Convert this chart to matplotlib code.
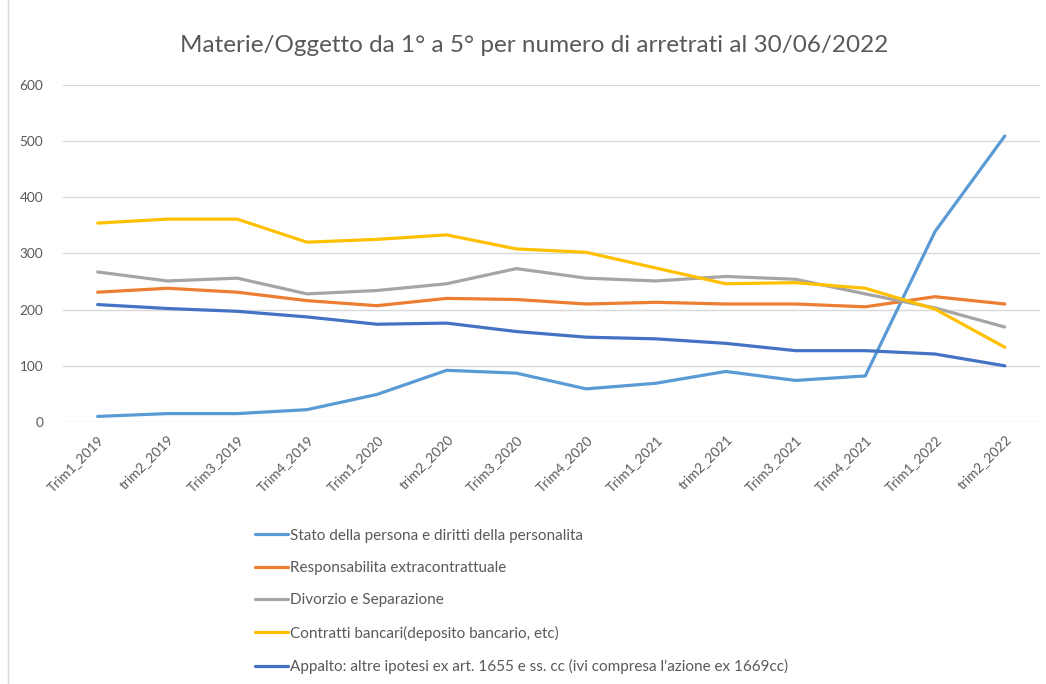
import matplotlib.pyplot as plt
from matplotlib.lines import Line2D

# quarters
periodi = ["Trim1_2019", "trim2_2019", "Trim3_2019", "Trim4_2019",
           "Trim1_2020", "trim2_2020", "Trim3_2020", "Trim4_2020",
           "Trim1_2021", "trim2_2021", "Trim3_2021", "Trim4_2021",
           "Trim1_2022", "trim2_2022"]

# arretrati per materia
stato_persona = [10, 15, 15, 22, 49, 92, 87, 59, 69, 90, 74, 82, 339, 509]
responsabilita = [231, 238, 231, 216, 207, 220, 218, 210, 213, 210, 210, 205, 223, 210]
divorzio = [267, 251, 256, 228, 234, 246, 273, 256, 251, 259, 254, 228, 203, 169]
contratti_bancari = [354, 361, 361, 320, 325, 333, 308, 302, 274, 246, 248, 238, 201, 133]
appalto = [209, 202, 197, 187, 174, 176, 161, 151, 148, 140, 127, 127, 121, 100]

nomi = ["Stato della persona e diritti della personalita",
        "Responsabilita extracontrattuale",
        "Divorzio e Separazione",
        "Contratti bancari(deposito bancario, etc)",
        "Appalto: altre ipotesi ex art. 1655 e ss. cc (ivi compresa l'azione ex 1669cc)"]
colori = ["#5B9BD5", "#ED7D31", "#A5A5A5", "#FFC000", "#4472C4"]

plt.rcParams['font.family'] = ['Lato', 'DejaVu Sans']

fig = plt.figure(figsize=(10.46, 6.84), dpi=100)
ax = fig.add_axes([0.060, 0.383, 0.934, 0.493])

serie = [stato_persona, responsabilita, divorzio, contratti_bancari, appalto]
x = list(range(len(periodi)))
for vals, nome, col in zip(serie, nomi, colori):
    ax.plot(x, vals, color=col, lw=2.3, label=nome, solid_capstyle='round')

ax.set_xlim(-0.5, len(periodi) - 0.5)
ax.set_ylim(0, 600)
ax.set_yticks(range(0, 601, 100))
ax.set_xticks(x)
ax.set_xticklabels(periodi, rotation=45, ha='right', rotation_mode='anchor')
ax.tick_params(axis='both', length=0, labelsize=9.8, labelcolor='#595959')
ax.tick_params(axis='x', pad=8)
ax.tick_params(axis='y', pad=14)
ax.grid(axis='y', color='#d9d9d9', lw=1)
ax.set_axisbelow(True)
for s in ax.spines.values():
    s.set_visible(False)

fig.text(0.511, 0.934, "Materie/Oggetto da 1° a 5° per numero di arretrati al 30/06/2022",
         ha='center', va='center', fontsize=17.5, color='#595959')

fig.legend(loc='upper left', bbox_to_anchor=(0.238, 0.236), frameon=False,
           fontsize=11, labelcolor='#595959', handlelength=2.15,
           handletextpad=0.15, labelspacing=1.2, borderaxespad=0)

# bordo sinistro del riquadro
fig.add_artist(Line2D([0.008, 0.008], [0, 1], color='#d9d9d9', lw=1,
                      transform=fig.transFigure))

fig.savefig("out.png", dpi=100)
